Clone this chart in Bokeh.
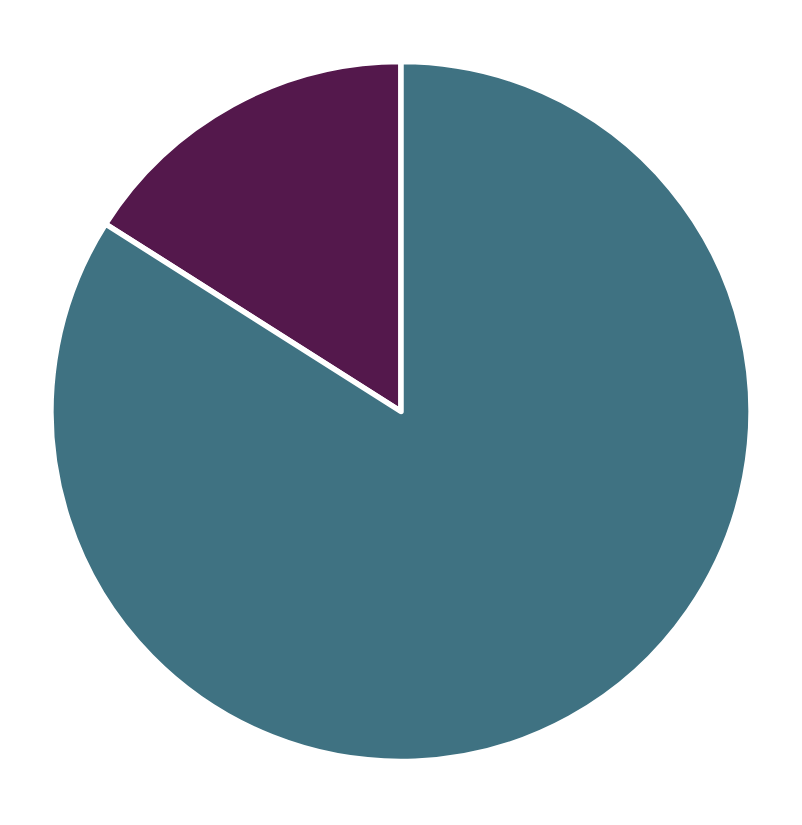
import math
from bokeh.plotting import figure
from bokeh.models import ColumnDataSource
from bokeh.embed import file_html
from bokeh.resources import INLINE

labels = ["B", "A"]
values = [16, 84]
colors = ["#54184C", "#3F7282"]

total = sum(values)
starts, ends = [], []
acc = math.pi / 2
for v in values:
    starts.append(acc)
    acc += v / total * 2 * math.pi
    ends.append(acc)

src = ColumnDataSource(dict(label=labels, value=values, color=colors, start=starts, end=ends))

W, H = 800, 822
cx, cy = 400.5, 411
p = figure(width=W, height=H, output_backend="svg", toolbar_location=None,
           x_range=(-cx, W - cx), y_range=(-(H - cy), cy), min_border=0)
p.wedge(x=0, y=0, radius=350, start_angle="start", end_angle="end", direction="anticlock",
        fill_color="color", line_color="white", line_width=5.5, line_join="round", source=src)
p.axis.visible = False
p.grid.visible = False
p.outline_line_color = None
p.background_fill_color = "white"
p.border_fill_color = "white"

open("out.html", "w").write(file_html(p, INLINE))
